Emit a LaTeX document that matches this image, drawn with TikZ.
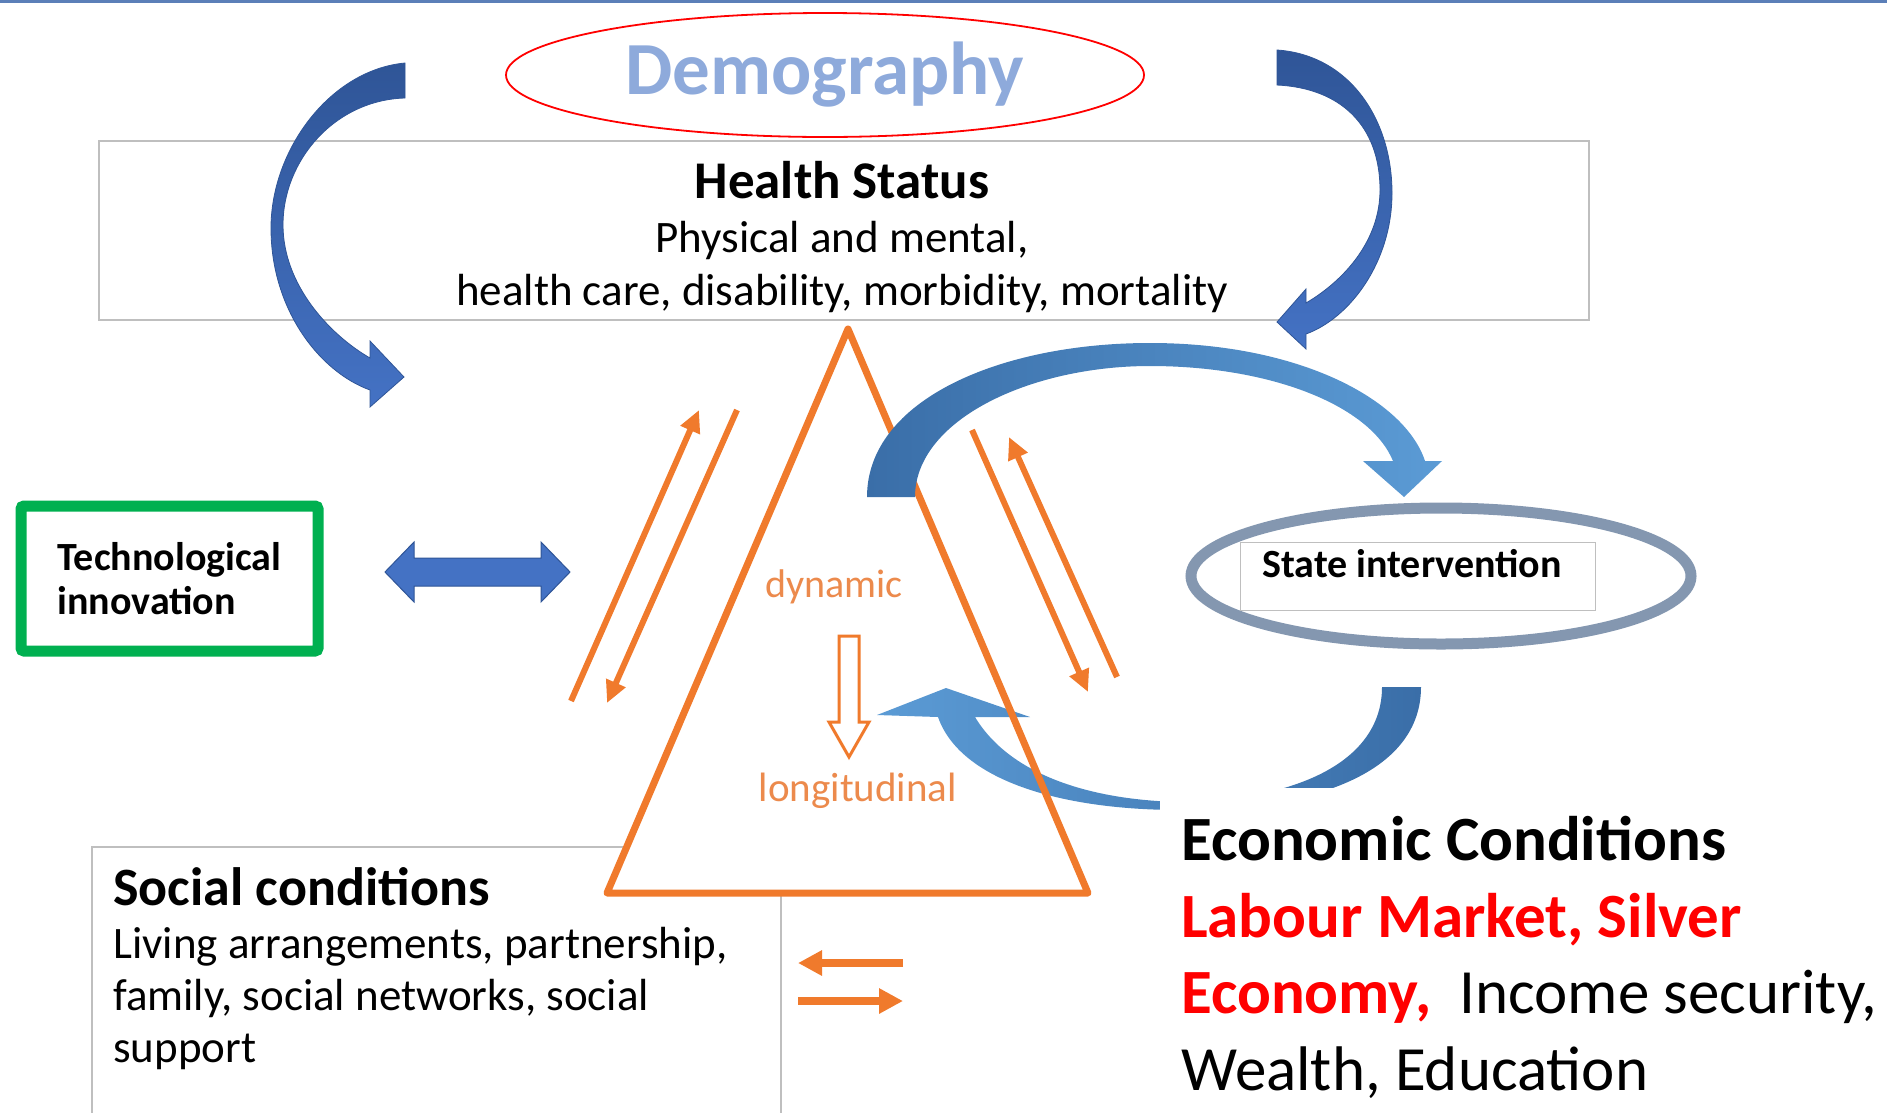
\documentclass[tikz,border=0pt]{standalone}
\usepackage{fontspec}
\setmainfont{Carlito}
\usepackage{xcolor}
\usepackage{tikz}
\usetikzlibrary{shapes.geometric,arrows.meta,positioning,calc}

\definecolor{demoblue}{HTML}{8EAADB}
\definecolor{arcdark}{HTML}{2F5597}
\definecolor{arclight}{HTML}{4472C4}
\definecolor{steeldark}{HTML}{3A6EA8}
\definecolor{steellight}{HTML}{5B9BD5}
\definecolor{triorange}{HTML}{F07A2C}
\definecolor{softorange}{HTML}{EC8A4C}
\definecolor{boxgray}{HTML}{BFBFBF}
\definecolor{stategray}{HTML}{8497B0}
\definecolor{techgreen}{HTML}{00B050}
\definecolor{topblue}{HTML}{5B7FB8}

\tikzset{
  txt/.style={inner sep=0pt},
  plainbox/.style={draw=boxgray, line width=1.5pt, fill=white},
  orangeline/.style={draw=triorange, line width=6pt, -{Triangle[length=22pt,width=20pt]}},
  fatorange/.style={draw=triorange, line width=8pt, -{Triangle[length=24pt,width=24pt]}},
}

\begin{document}
\begin{tikzpicture}[x=1pt, y=-1pt]
    \useasboundingbox (0,0) rectangle (1887,1112);
    % thin rule along the top edge
    \draw[topblue, line width=3pt] (0,1.5) -- (1887,1.5);

    % Demography
    \node[ellipse, draw=red, line width=1.8pt, minimum width=638pt, minimum height=124pt, inner sep=0pt,
          text=demoblue, font=\fontsize{75}{80}\selectfont\bfseries] (demog) at (825,75) {Demography};

    % Health status box (base of a multi-line node = its last line)
    \node[plainbox, minimum width=1490pt, minimum height=179pt] (health) at (844,230.5) {};
    \node[txt, anchor=base, font=\fontsize{53}{60}\selectfont\bfseries] (healthtitle) at (842,198) {Health Status};
    \node[txt, anchor=base, align=center, font=\fontsize{45}{53}\selectfont] (healthbody) at (842,305)
        {Physical and mental,\\health care, disability, morbidity, mortality};

    % curved arrows from demography
    \path[top color=arcdark, bottom color=arclight, draw=arcdark, line width=0.8pt]
        (405,63) .. controls (330,70) and (271,150) .. (271,228)
        .. controls (271,310) and (320,372) .. (370,390)
        -- (370,407) -- (404,377) -- (370,341) -- (370,358)
        .. controls (330,335) and (283,285) .. (283,225)
        .. controls (283,160) and (335,100) .. (405,98) -- cycle;
    \path[top color=arcdark, bottom color=arclight, draw=arcdark, line width=0.8pt]
        (1277,50) .. controls (1350,55) and (1392,120) .. (1392,193)
        .. controls (1392,262) and (1350,318) .. (1306,334)
        -- (1306,349) -- (1277,322) -- (1306,289) -- (1306,303)
        .. controls (1345,280) and (1380,240) .. (1380,190)
        .. controls (1380,125) and (1340,88) .. (1277,85) -- cycle;

    % Technological innovation
    \node[draw=techgreen, line width=11pt, rounded corners=3pt, minimum width=297pt, minimum height=145pt,
          align=left, font=\fontsize{40}{44}\selectfont\bfseries] (tech) at (169.5,578.5) {Technological\\innovation};
    \filldraw[fill=arclight, draw=arcdark, line width=1pt]
        (385,572) -- (414,542) -- (414,558) -- (541,558) -- (541,542) -- (570,572)
        -- (541,602) -- (541,586) -- (414,586) -- (414,602) -- cycle;

    % Social conditions
    \node[plainbox, anchor=north west, minimum width=689pt, minimum height=320pt] (social) at (91,846) {};
    \node[txt, anchor=base west, font=\fontsize{54}{60}\selectfont\bfseries] (socialtitle) at (113,905) {Social conditions};
    \node[txt, anchor=base west, align=left, font=\fontsize{45}{52}\selectfont] (socialbody) at (113,1062)
        {Living arrangements, partnership,\\family, social networks, social\\support};

    % triangle
    \coordinate (apex) at (848,329);
    \coordinate (tribr) at (1088,893);
    \coordinate (tribl) at (607,893);
    \fill[white] (apex) -- (tribr) -- (tribl) -- cycle;

    % lower arc back to the triangle
    \path[left color=steellight, right color=steeldark]
        (938,717) -- (877,715) -- (946,688) -- (1030,717) -- (975,717)
        .. controls (1010,775) and (1090,800) .. (1180,802)
        .. controls (1300,800) and (1382,760) .. (1382,687)
        -- (1421,687)
        .. controls (1421,770) and (1320,810) .. (1180,810)
        .. controls (1060,810) and (960,780) .. (938,717) -- cycle;

    \draw[triorange, line width=7pt, line join=round] (apex) -- (tribr) -- (tribl) -- cycle;
    \node[txt, text=softorange, font=\fontsize{40}{44}\selectfont] (dyn) at (834,587) {dynamic};
    \node[txt, text=softorange, font=\fontsize{41}{44}\selectfont] (longi) at (858,791) {longitudinal};
    \filldraw[fill=white, draw=triorange, line width=3pt]
        (839,636) -- (859,636) -- (859,722) -- (869,722) -- (849,757) -- (829,722) -- (839,722) -- cycle;

    % arrows along the sides
    \coordinate (lup0) at (571,701);  \coordinate (lup1) at (699,410);
    \coordinate (ldn0) at (737,410);  \coordinate (ldn1) at (607,703);
    \coordinate (rdn0) at (972,430);  \coordinate (rdn1) at (1088,692);
    \coordinate (rup0) at (1117,677); \coordinate (rup1) at (1009,437);
    \draw[orangeline] (lup0) -- (lup1);
    \draw[orangeline] (ldn0) -- (ldn1);
    \draw[orangeline] (rdn0) -- (rdn1);
    \draw[orangeline] (rup0) -- (rup1);

    % upper arc to the state
    \path[left color=steeldark, right color=steellight]
        (867,497) .. controls (867,400) and (1000,343) .. (1150,343)
        .. controls (1300,343) and (1405,400) .. (1425,461)
        -- (1442,461) -- (1404,497) -- (1363,461) -- (1393,461)
        .. controls (1370,405) and (1270,366) .. (1150,366)
        .. controls (1030,366) and (915,420) .. (915,497) -- cycle;

    % State intervention
    \node[ellipse, draw=stategray, line width=11pt, minimum width=500pt, minimum height=136pt] (stateoval) at (1441,576) {};
    \node[plainbox, line width=1pt, minimum width=355pt, minimum height=68pt] (staterect) at (1417.5,576) {};
    \node[txt, anchor=base west, font=\fontsize{40}{44}\selectfont\bfseries] (statetxt) at (1262,577) {State intervention};

    % Economic conditions
    \node[fill=white, anchor=north west, minimum width=727pt, minimum height=324pt] (econ) at (1160,788) {};
    \node[txt, anchor=base west, align=left, font=\fontsize{63}{76.5}\selectfont] (econtxt) at (1181,1090)
        {\textbf{Economic Conditions}\\\textcolor{red}{\textbf{Labour Market, Silver}}\\
         \textcolor{red}{\textbf{Economy,}}\ \ Income security,\\Wealth, Education};

    % small arrows beside the social box
    \coordinate (sa0) at (903,963);  \coordinate (sa1) at (798,963);
    \coordinate (sb0) at (798,1001); \coordinate (sb1) at (903,1001);
    \draw[fatorange] (sa0) -- (sa1);
    \draw[fatorange] (sb0) -- (sb1);
\end{tikzpicture}
\end{document}
